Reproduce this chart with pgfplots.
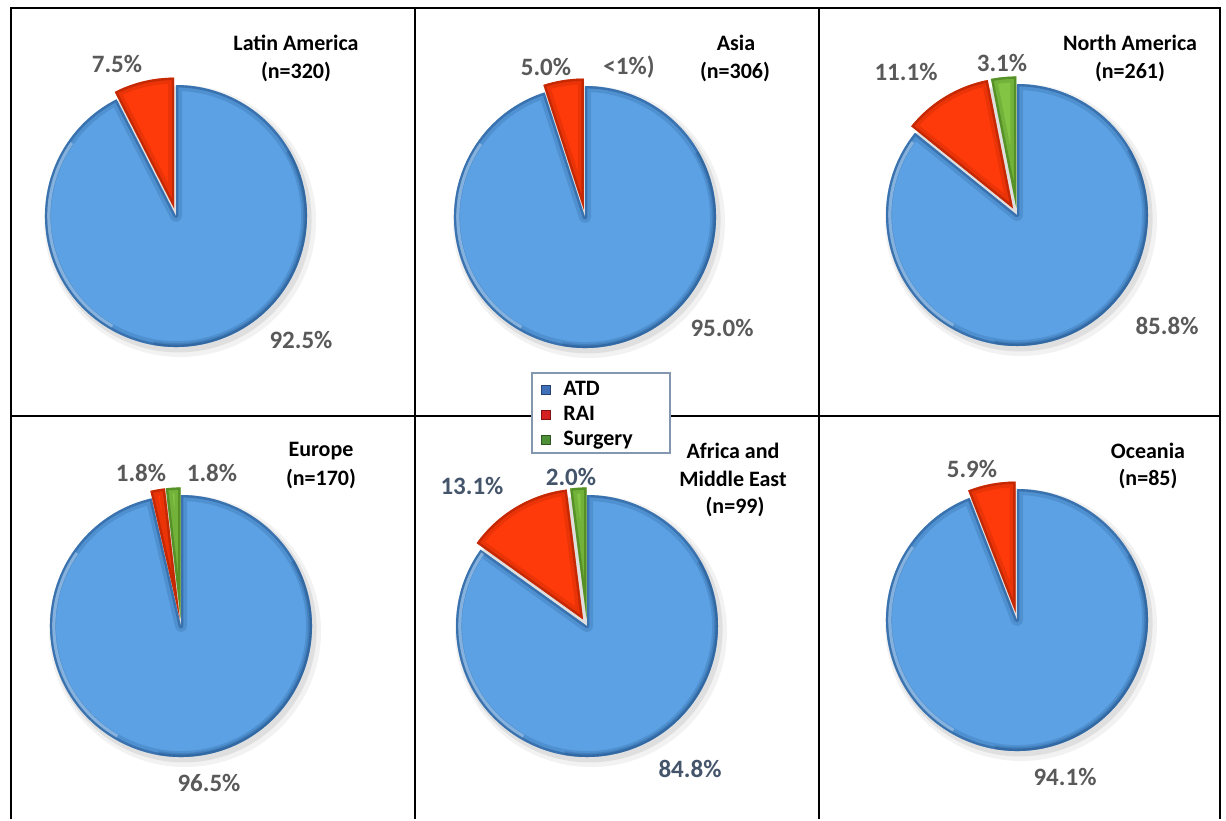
\documentclass[border=0pt]{standalone}
\usepackage{pgfplots}
\pgfplotsset{compat=1.18}
\usepackage{fontspec}
\setmainfont{Carlito}

\definecolor{atd}{HTML}{5CA1E3}
\definecolor{atdD}{HTML}{1F4F85}
\definecolor{rai}{HTML}{FF3A0A}
\definecolor{raiD}{HTML}{9A1C00}
\definecolor{surg}{HTML}{84C444}
\definecolor{surgD}{HTML}{336A14}
\definecolor{labgray}{HTML}{595959}
\definecolor{labblue}{HTML}{44546A}
\definecolor{legbord}{HTML}{8497B0}
\definecolor{legatd}{HTML}{3E6FB8}
\definecolor{legrai}{HTML}{D42020}
\definecolor{legsurg}{HTML}{4E9038}

\tikzset{
  lab/.style={font=\bfseries\fontsize{12.5}{14}\selectfont, text=labgray},
  ttl/.style={font=\bfseries\fontsize{11}{13}\selectfont, text=black},
}

% one slice: cx, cy (px), start angle, end angle, explode (pt), fill, dark
\newcommand{\pieslice}[7]{%
  \begin{scope}[shift={({(#3+#4)/2}:#5pt)}]
    \fill[#6] (axis cs:#1,#2) -- ++({#3}:65.5pt) arc[start angle={#3}, end angle={#4}, radius=65.5pt] -- cycle;
    \begin{scope}
      \clip (axis cs:#1,#2) -- ++({#3}:65.5pt) arc[start angle={#3}, end angle={#4}, radius=65.5pt] -- cycle;
      \draw[#7, line width=6pt, opacity=0.2, line join=round] (axis cs:#1,#2) -- ++({#3}:65.5pt) arc[start angle={#3}, end angle={#4}, radius=65.5pt] -- cycle;
      \draw[#7, line width=2.4pt, opacity=0.45, line join=round] (axis cs:#1,#2) -- ++({#3}:65.5pt) arc[start angle={#3}, end angle={#4}, radius=65.5pt] -- cycle;
    \end{scope}
  \end{scope}}
% a pie: cx, cy (px), ATD, RAI, Surgery (%)
\newcommand{\pie}[5]{%
  \fill[black, opacity=0.05] (axis cs:#1,#2) ++(2pt,-2.5pt) circle[radius=68pt];
  \fill[black, opacity=0.08] (axis cs:#1,#2) ++(1.3pt,-1.7pt) circle[radius=66.5pt];
  \pieslice{#1}{#2}{90+3.6*(#4+#5)}{450}{0}{atd}{atdD}%
  \begin{scope}
    \clip (axis cs:#1,#2) circle[radius=65.5pt];
    \draw[white, opacity=0.3, line width=1.6pt] (axis cs:#1,#2) ++(145:63.6pt) arc[start angle=145, end angle=240, radius=63.6pt];
    \draw[atdD, opacity=0.25, line width=4pt] (axis cs:#1,#2) ++(-100:65.5pt) arc[start angle=-100, end angle=30, radius=65.5pt];
  \end{scope}
  \ifdim #4pt>0pt \pieslice{#1}{#2}{90+3.6*#5}{90+3.6*(#4+#5)}{3.8}{rai}{raiD}\fi
  \ifdim #5pt>0pt \pieslice{#1}{#2}{90}{90+3.6*#5}{3.8}{surg}{surgD}\fi}

\begin{document}
\begin{tikzpicture}
\begin{axis}[
  scale only axis, width=613pt, height=409.5pt,
  xmin=0, xmax=1226, ymin=0, ymax=819, y dir=reverse,
  hide axis, clip=false,
  legend style={at={(axis cs:536,377)}, anchor=north west, draw=none, fill=none,
    inner sep=0pt, row sep=0pt, column sep=0pt,
    font=\bfseries\fontsize{11}{12}\selectfont,
    nodes={inner sep=1pt, text height=8pt, text depth=2.5pt}},
  legend cell align=left,
  legend image code/.code={\path[draw=none, fill=none] (0pt,0pt) -- (12.5pt,0pt);
    \draw[#1] (2.5pt,-2.3pt) rectangle (7.1pt,2.3pt);},
]
\addlegendimage{fill=legatd, draw=legatd!60!black, line width=0.3pt}
\addlegendentry{ATD}
\addlegendimage{fill=legrai, draw=legrai!60!black, line width=0.3pt}
\addlegendentry{RAI}
\addlegendimage{fill=legsurg, draw=legsurg!60!black, line width=0.3pt}
\addlegendentry{Surgery}

\pgfplotsextra{
  \path (axis cs:0,0) rectangle (axis cs:1226,819);
  % panel grid
  \draw[black, line width=1.2pt] (axis cs:11,819) -- (axis cs:11,8) -- (axis cs:1220,8) -- (axis cs:1220,819);
  \draw[black, line width=1.2pt] (axis cs:415,8) -- (axis cs:415,819);
  \draw[black, line width=1.2pt] (axis cs:819,8) -- (axis cs:819,819);
  \draw[black, line width=1.2pt] (axis cs:11,416) -- (axis cs:1220,416);

  % pies: cx, cy, ATD, RAI, Surgery
  \pie{176}{216}{92.5}{7.5}{0}
  \pie{585}{217}{95.0}{5.0}{0}
  \pie{1017}{215}{85.8}{11.1}{3.1}
  \pie{181}{626}{96.5}{1.8}{1.8}
  \pie{587}{626}{84.8}{13.1}{2.0}
  \pie{1017}{620}{94.1}{5.9}{0}

  % legend frame
  \filldraw[fill=white, draw=legbord, line width=0.6pt] (axis cs:532,373) rectangle (axis cs:670,453);
}

% Latin America
\node[ttl] at (axis cs:296,43) {Latin America};
\node[ttl] at (axis cs:296,72) {(n=320)};
\node[lab] at (axis cs:117,64) {7.5\%};
\node[lab] at (axis cs:301,340) {92.5\%};
% Asia
\node[ttl] at (axis cs:736,43) {Asia};
\node[ttl] at (axis cs:735,72) {(n=306)};
\node[lab] at (axis cs:546,67) {5.0\%};
\node[lab] at (axis cs:629,67) {<1\%)};
\node[lab] at (axis cs:722,328) {95.0\%};
% North America
\node[ttl] at (axis cs:1130,43) {North America};
\node[ttl] at (axis cs:1130,72) {(n=261)};
\node[lab] at (axis cs:906,72) {11.1\%};
\node[lab] at (axis cs:1002,63) {3.1\%};
\node[lab] at (axis cs:1167,326) {85.8\%};
% Europe
\node[ttl] at (axis cs:321,451) {Europe};
\node[ttl] at (axis cs:321,479) {(n=170)};
\node[lab] at (axis cs:141,473) {1.8\%};
\node[lab] at (axis cs:212,473) {1.8\%};
\node[lab] at (axis cs:209,783) {96.5\%};
% Africa and Middle East
\node[ttl] at (axis cs:733,451) {Africa and};
\node[ttl] at (axis cs:733,479) {Middle East};
\node[ttl] at (axis cs:735,507) {(n=99)};
\node[lab, text=labblue] at (axis cs:472,486) {13.1\%};
\node[lab, text=labblue] at (axis cs:571,477) {2.0\%};
\node[lab, text=labblue] at (axis cs:690,769) {84.8\%};
% Oceania
\node[ttl] at (axis cs:1148,451) {Oceania};
\node[ttl] at (axis cs:1148,479) {(n=85)};
\node[lab] at (axis cs:972,469) {5.9\%};
\node[lab] at (axis cs:1065,777) {94.1\%};
\end{axis}
\end{tikzpicture}
\end{document}
